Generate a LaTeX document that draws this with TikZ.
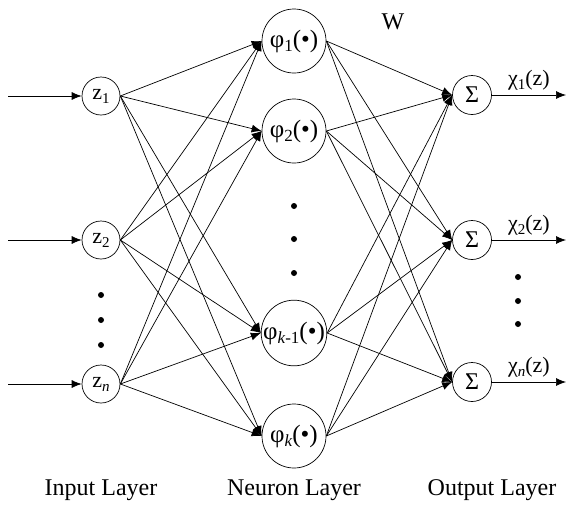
\documentclass[tikz,border=0pt]{standalone}
\usepackage{fontspec}
\setmainfont{Liberation Serif}
\usetikzlibrary{arrows.meta}
\newcommand\lsub[1]{\raisebox{-4pt}{\fontsize{15}{15}\selectfont #1}}
\newcommand\hsub[1]{\raisebox{-4.5pt}{\fontsize{17}{17}\selectfont #1}}
\begin{document}
\begin{tikzpicture}[x=1pt,y=-1pt,
  inp/.style={circle,draw,minimum size=38pt,inner sep=0pt,line width=0.7pt,font=\fontsize{22}{22}\selectfont},
  hid/.style={circle,draw,minimum size=64pt,inner sep=0pt,line width=0.7pt,font=\fontsize{25}{25}\selectfont},
  outn/.style={circle,draw,minimum size=39pt,inner sep=0pt,line width=0.7pt,font=\fontsize{24}{24}\selectfont},
  arr/.style={-{Latex[length=10pt,width=8pt]},line width=0.7pt},
  dotn/.style={circle,fill,inner sep=0pt,minimum size=6pt},
  lbl/.style={font=\fontsize{24}{24}\selectfont},
  olbl/.style={font=\fontsize{22}{22}\selectfont,above=1pt}]
\useasboundingbox (0,0) rectangle (567,509);
% input layer
\node[inp] (z1) at (101,96) {z\lsub{1}};
\node[inp] (z2) at (101,240) {z\lsub{2}};
\node[inp] (z3) at (101,384) {z\lsub{\textit{n}}};
\coordinate (s1) at (8,96);
\coordinate (s2) at (8,240);
\coordinate (s3) at (8,384);
\foreach \i in {1,2,3} {\draw[arr] (s\i) -- (z\i.west);}
\node[dotn] (dl1) at (101,295) {};
\node[dotn] (dl2) at (101,320) {};
\node[dotn] (dl3) at (101,345) {};
% neuron layer
\node[hid] (h1) at (294,41) {φ\hsub{1}(•)};
\node[hid] (h2) at (294,131) {φ\hsub{2}(•)};
\node[hid] (h3) at (294,333) {φ\hsub{\textit{k}-1}(•)};
\node[hid] (h4) at (294,436) {φ\hsub{\textit{k}}(•)};
\node[dotn] (dm1) at (294,206) {};
\node[dotn] (dm2) at (294,239) {};
\node[dotn] (dm3) at (294,273) {};
% output layer
\node[outn] (o1) at (472,95) {Σ};
\node[outn] (o2) at (472,240) {Σ};
\node[outn] (o3) at (472,382) {Σ};
\coordinate (e1) at (566,95);
\coordinate (e2) at (566,240);
\coordinate (e3) at (566,382);
\draw[arr] (o1.east) -- node[olbl] (c1) {χ\lsub{1}(z)} (e1);
\draw[arr] (o2.east) -- node[olbl] (c2) {χ\lsub{2}(z)} (e2);
\draw[arr] (o3.east) -- node[olbl] (c3) {χ\lsub{\textit{n}}(z)} (e3);
\node[dotn] (dr1) at (518,277) {};
\node[dotn] (dr2) at (518,301) {};
\node[dotn] (dr3) at (518,324) {};
% connections
\foreach \i in {1,2,3} {\foreach \j in {1,2,3,4} {\draw[arr] (z\i.east) -- (h\j.west);}}
\foreach \j in {1,2,3,4} {\foreach \m in {1,2,3} {\draw[arr] (h\j.east) -- (o\m.west);}}
\node[lbl] (W) at (393,22) {W};
\node[lbl] (L1) at (101,490) {Input Layer};
\node[lbl] (L2) at (294,490) {Neuron Layer};
\node[lbl] (L3) at (492,490) {Output Layer};
\end{tikzpicture}
\end{document}
